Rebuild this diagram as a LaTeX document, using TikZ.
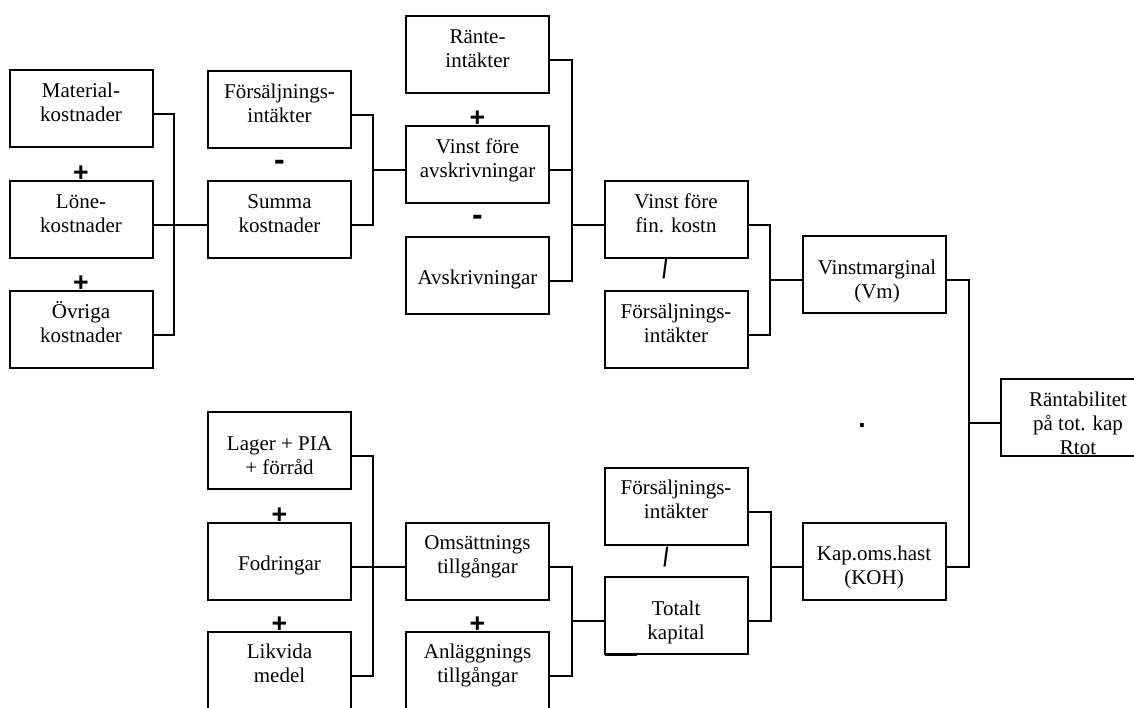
\documentclass[tikz,border=0pt]{standalone}
\usepackage{fontspec}
\usepackage{graphicx}
\setmainfont{Liberation Serif}
\newfontfamily\opfont{Liberation Sans}
% strut that fixes the height of the first text line in every box
\newcommand\ls{\rule{0pt}{14pt}}
\newcommand\boxfont{\fontsize{15.75pt}{18pt}\selectfont}
% connectors leave the boxes a little below their middle
\newcommand\dy{-4.125pt}

\begin{document}
\begin{tikzpicture}[x=0.75pt,y=-0.75pt,
  box/.style={draw, line width=1.5pt, minimum width=107.25pt, minimum height=57.75pt,
    inner sep=0pt, outer sep=0pt, anchor=north},
  txt/.style={anchor=north, align=center, inner sep=0pt, font=\boxfont},
  wire/.style={line width=1.5pt},
  plusop/.style={inner sep=0pt, font=\opfont\bfseries\fontsize{20pt}{20pt}\selectfont},
  minusop/.style={inner sep=0pt, font=\opfont\bfseries\fontsize{24pt}{24pt}\selectfont},
  divop/.style={inner sep=0pt, font=\opfont\bfseries\fontsize{20pt}{20pt}\selectfont},
]
\fill[white] (0,0) rectangle (1134,707);
\useasboundingbox (0,0) rectangle (1134,707);
\clip (0,0) rectangle (1134,707);

% ---------- cost side ----------
\node[box] (mat) at (81,70) {};
\node[txt] (matT) at ([yshift=-6.25pt]mat.north) {\ls Material-\\kostnader};
\node[box] (lon) at (81,181) {};
\node[txt] (lonT) at ([yshift=-6.25pt]lon.north) {\ls Löne-\\kostnader};
\node[box] (ovr) at (81,291) {};
\node[txt] (ovrT) at ([yshift=-6.25pt]ovr.north) {\ls Övriga\\kostnader};

\node[box] (fs1) at (279.5,71) {};
\node[txt] (fs1T) at ([yshift=-6.25pt]fs1.north) {\ls Försäljnings-\\intäkter};
\node[box] (sum) at (279.5,181) {};
\node[txt] (sumT) at ([yshift=-6.25pt]sum.north) {\ls Summa\\kostnader};

\node[box] (rte) at (477.5,16) {};
\node[txt] (rteT) at ([yshift=-6.25pt]rte.north) {\ls Ränte-\\intäkter};
\node[box] (vfa) at (477.5,126) {};
\node[txt] (vfaT) at ([yshift=-6.25pt]vfa.north) {\ls Vinst före\\avskrivningar};
\node[box] (avs) at (477.5,237) {};
\node[txt] (avsT) at ([yshift=-21.25pt]avs.north) {\ls Avskrivningar};

\node[box] (vff) at (676,181) {};
\node[txt] (vffT) at ([yshift=-6.25pt]vff.north) {\ls Vinst före\\fin. kostn};
\node[box] (fs2) at (676,291) {};
\node[txt] (fs2T) at ([yshift=-6.25pt]fs2.north) {\ls Försäljnings-\\intäkter};

\node[box] (vm) at (874,236) {};
\node[txt] (vmT) at ([xshift=2.25pt,yshift=-14.5pt]vm.north) {\ls Vinstmarginal\\(Vm)};

\node[box] (rtot) at (1072,379) {};
\node[txt] (rtotT) at ([xshift=4.5pt,yshift=-6.25pt]rtot.north) {\ls Räntabilitet\\på tot. kap\\Rtot};

% ---------- capital side ----------
\node[box] (lag) at (279.5,412) {};
\node[txt] (lagT) at ([yshift=-14.5pt]lag.north) {\ls Lager + PIA\\+ förråd};
\node[box] (fod) at (279.5,523) {};
\node[txt] (fodT) at ([yshift=-21.25pt]fod.north) {\ls Fodringar};
\node[box] (lik) at (279.5,632) {};
\node[txt] (likT) at ([yshift=-6pt]lik.north) {\ls Likvida\\medel};

\node[box] (oms) at (477.5,523) {};
\node[txt] (omsT) at ([yshift=-6pt]oms.north) {\ls Omsättnings\\tillgångar};
\node[box] (anl) at (477.5,632) {};
\node[txt] (anlT) at ([yshift=-6pt]anl.north) {\ls Anläggnings\\tillgångar};

\node[box] (fs3) at (676,468) {};
\node[txt] (fs3T) at ([yshift=-6pt]fs3.north) {\ls Försäljnings-\\intäkter};
\node[box] (tot) at (676,577) {};
\node[txt] (totT) at ([yshift=-14.5pt]tot.north) {\ls Totalt\\kapital};
\draw[wire] ([yshift=-0.75pt]tot.south west) -- ++(32,0);

\node[box] (koh) at (874,522.5) {};
\node[txt] (kohT) at ([yshift=-14pt]koh.north) {\ls Kap.oms.hast\\(KOH)};

% ---------- junctions ----------
\path ([yshift=\dy]sum.west) ++(-34,0) coordinate (kA);
\path ([yshift=\dy]vfa.west) ++(-33,0) coordinate (kB);
\path ([yshift=\dy]vff.west) ++(-33,0) coordinate (kC);
\path ([yshift=\dy]vm.west) ++(-33,0) coordinate (kD);
\path ([yshift=\dy]rtot.west) ++(-32,0) coordinate (kE);
\path ([yshift=\dy]oms.west) ++(-33,0) coordinate (kF);
\path ([yshift=\dy]tot.west) ++(-33,0) coordinate (kG);
\path ([yshift=\dy]koh.west) ++(-32,0) coordinate (kH);

% ---------- connectors ----------
\draw[wire] ([yshift=\dy]mat.east) -| (kA) |- ([yshift=\dy]ovr.east);
\draw[wire] ([yshift=\dy]lon.east) -- ([yshift=\dy]sum.west);

\draw[wire] ([yshift=\dy]fs1.east) -| (kB) |- ([yshift=\dy]sum.east);
\draw[wire] (kB) -- ([yshift=\dy]vfa.west);

\draw[wire] ([yshift=\dy]rte.east) -| (kC) |- ([yshift=\dy]avs.east);
\draw[wire] ([yshift=\dy]vfa.east) -| (kC);
\draw[wire] (kC) -- ([yshift=\dy]vff.west);

\draw[wire] ([yshift=\dy]vff.east) -| (kD) |- ([yshift=\dy]fs2.east);
\draw[wire] (kD) -- ([yshift=\dy]vm.west);

\draw[wire] ([yshift=\dy]vm.east) -| (kE) |- ([yshift=\dy]koh.east);
\draw[wire] (kE) -- ([yshift=\dy]rtot.west);

\draw[wire] ([yshift=\dy]lag.east) -| (kF) |- ([yshift=\dy]lik.east);
\draw[wire] ([yshift=\dy]fod.east) -- ([yshift=\dy]oms.west);

\draw[wire] ([yshift=\dy]oms.east) -| (kG) |- ([yshift=\dy]anl.east);
\draw[wire] (kG) -- ([yshift=\dy]tot.west);

\draw[wire] ([yshift=\dy]fs3.east) -| (kH) |- ([yshift=\dy]tot.east);
\draw[wire] (kH) -- ([yshift=\dy]koh.west);

% ---------- operators ----------
\node[plusop] (pl1) at ([yshift=5.25pt]lon.north) {+};
\node[plusop] (pl2) at ([yshift=5.25pt]ovr.north) {+};
\node[plusop] (pl3) at ([yshift=5.25pt]vfa.north) {+};
\node[plusop] (pl4) at ([yshift=5.25pt]fod.north) {+};
\node[plusop] (pl5) at ([yshift=5.25pt]lik.north) {+};
\node[plusop] (pl6) at ([yshift=5.25pt]anl.north) {+};

\node[minusop] (mi1) at ([yshift=-13.1pt]fs1.south) {-};
\node[minusop] (mi2) at ([yshift=-13.1pt]vfa.south) {-};

\node[divop] (dv1) at ([xshift=-8.25pt,yshift=-8.25pt]vff.south) {\scalebox{0.7}[1]{/}};
\node[divop] (dv2) at ([xshift=-7.5pt,yshift=-9pt]fs3.south) {\scalebox{0.7}[1]{/}};

\node[plusop] (dot) at (862,426) {.};
\end{tikzpicture}
\end{document}
